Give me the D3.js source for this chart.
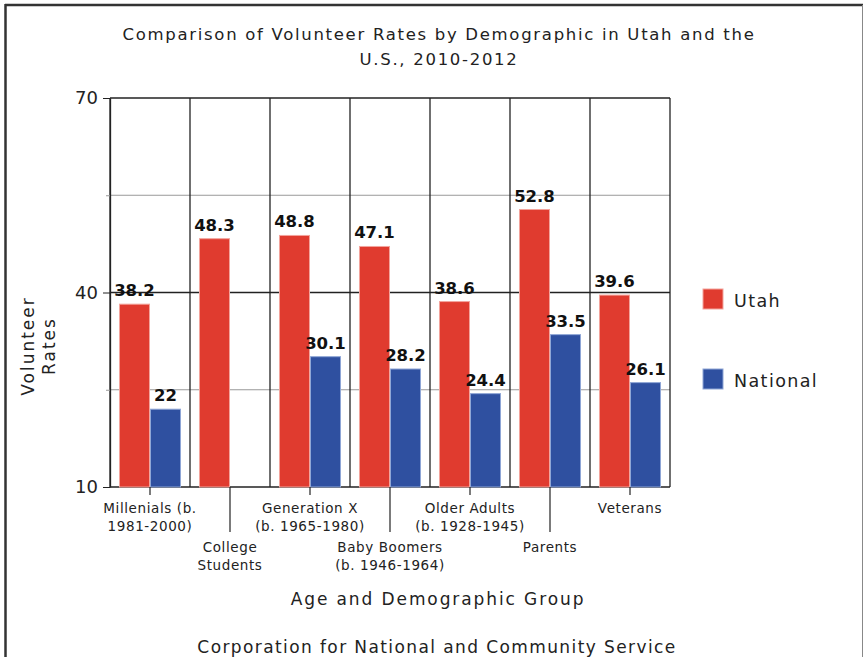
<!DOCTYPE html>
<html>
<head>
<meta charset="utf-8">
<script src="https://cdn.jsdelivr.net/npm/d3@7"></script>
<style>
  body { margin: 0; background: #fff; }
  svg { display: block; font-family: 'DejaVu Sans', sans-serif; }
</style>
</head>
<body>
<div id="chart"></div>
<script>
// data
const categories = ['Millenials', 'College Students', 'Generation X', 'Baby Boomers', 'Older Adults', 'Parents', 'Veterans'];
const categoryLabels = [
  ['Millenials (b.', '1981-2000)'],
  ['College', 'Students'],
  ['Generation X', '(b. 1965-1980)'],
  ['Baby Boomers', '(b. 1946-1964)'],
  ['Older Adults', '(b. 1928-1945)'],
  ['Parents'],
  ['Veterans'],
];
const seriesNames = ['Utah', 'National'];
const utahValues = [38.2, 48.3, 48.8, 47.1, 38.6, 52.8, 39.6];
const nationalValues = [22, null, 30.1, 28.2, 24.4, 33.5, 26.1];
const yTicks = [10, 25, 40, 55, 70];
const yLabelTicks = [10, 40, 70];

const colors = { Utah: '#e03b2f', National: '#2f50a0' };
const edges = { Utah: '#f3a49c', National: '#8fa6d6' };

const W = 866, H = 657;
const m = { top: 98, right: 196, bottom: 170, left: 110 };

const svg = d3.select('#chart').append('svg').attr('width', W).attr('height', H);

// frame
svg.append('line').attr('x1', 5).attr('x2', 863).attr('y1', 5).attr('y2', 5).attr('stroke', '#333').attr('stroke-width', 2.5);
svg.append('line').attr('x1', 5.5).attr('x2', 5.5).attr('y1', 4).attr('y2', H).attr('stroke', '#333').attr('stroke-width', 2.5);
svg.append('line').attr('x1', 862.5).attr('x2', 862.5).attr('y1', 5).attr('y2', H).attr('stroke', '#888').attr('stroke-width', 1);

const x0 = d3.scaleBand().domain(categories).range([m.left, W - m.right]).padding(0);
const x1 = d3.scaleBand().domain(seriesNames).range([0, x0.bandwidth()]).paddingInner(0).paddingOuter(0.29);
const y = d3.scaleLinear().domain([10, 70]).range([H - m.bottom, m.top]);

// horizontal grid
svg.append('g').selectAll('line').data(yTicks).join('line')
  .attr('x1', m.left).attr('x2', W - m.right)
  .attr('y1', d => y(d)).attr('y2', d => y(d))
  .attr('stroke', d => yLabelTicks.includes(d) ? '#222' : '#999')
  .attr('stroke-width', d => yLabelTicks.includes(d) ? 1.3 : 1);

// vertical separators
const bounds = categories.map(c => x0(c)).concat([x0(categories[categories.length - 1]) + x0.bandwidth()]);
svg.append('g').selectAll('line').data(bounds).join('line')
  .attr('x1', d => d).attr('x2', d => d)
  .attr('y1', y(70)).attr('y2', y(10))
  .attr('stroke', '#222').attr('stroke-width', 1.3);

// bars
const rows = categories.map((c, i) => ({ cat: c, values: [
  { key: 'Utah', value: utahValues[i] },
  { key: 'National', value: nationalValues[i] },
].filter(d => d.value != null) }));

const groups = svg.append('g').selectAll('g').data(rows).join('g')
  .attr('transform', d => `translate(${x0(d.cat)},0)`);

groups.selectAll('rect').data(d => d.values).join('rect')
  .attr('x', d => x1(d.key) + 0.5)
  .attr('width', x1.bandwidth() - 1)
  .attr('y', d => y(d.value))
  .attr('height', d => y(10) - y(d.value))
  .attr('fill', d => colors[d.key])
  .attr('stroke', d => edges[d.key]).attr('stroke-width', 1);

groups.selectAll('text').data(d => d.values).join('text')
  .attr('x', d => x1(d.key) + x1.bandwidth() / 2)
  .attr('y', d => y(d.value) - 8)
  .attr('text-anchor', 'middle')
  .attr('font-size', 16.5).attr('font-weight', 'bold').attr('fill', '#111')
  .text(d => d.value);

// y axis
const yAxis = svg.append('g').attr('transform', `translate(${m.left},0)`)
  .call(d3.axisLeft(y).tickValues(yTicks).tickSizeOuter(0).tickPadding(6)
    .tickFormat(d => yLabelTicks.includes(d) ? d : ''));
yAxis.select('.domain').attr('stroke', '#222').attr('stroke-width', 1.3);
yAxis.selectAll('.tick line').attr('x2', d => yLabelTicks.includes(d) ? -7 : -4)
  .attr('stroke', d => yLabelTicks.includes(d) ? '#222' : '#999');
yAxis.selectAll('.tick text').attr('font-size', 18).attr('fill', '#222').attr('font-family', 'DejaVu Sans');

// x axis
const xAxis = svg.append('g').attr('transform', `translate(0,${y(10)})`)
  .call(d3.axisBottom(x0).tickSizeOuter(0).tickFormat(''));
xAxis.select('.domain').remove();
xAxis.selectAll('.tick line').attr('y2', (d, i) => i % 2 ? 45 : 8).attr('stroke', '#222').attr('stroke-width', 1.2);
xAxis.selectAll('.tick text').remove();
xAxis.selectAll('.tick').append('text')
  .attr('text-anchor', 'middle').attr('fill', '#222').attr('font-size', 13.5)
  .attr('letter-spacing', 0.6).attr('font-family', 'DejaVu Sans')
  .each(function (d, i) {
    const t = d3.select(this);
    const base = i % 2 ? 65 : 26;
    categoryLabels[i].forEach((line, k) => {
      t.append('tspan').attr('x', 0).attr('y', base + k * 18).text(line);
    });
  });

// titles
const title = svg.append('text').attr('text-anchor', 'middle').attr('font-size', 16.5)
  .attr('letter-spacing', 1.7).attr('fill', '#222');
title.append('tspan').attr('x', 439).attr('y', 40).text('Comparison of Volunteer Rates by Demographic in Utah and the');
title.append('tspan').attr('x', 439).attr('y', 65).text('U.S., 2010-2012');

svg.append('text').attr('x', 438).attr('y', 605).attr('text-anchor', 'middle')
  .attr('font-size', 17).attr('letter-spacing', 1.9).attr('fill', '#222').text('Age and Demographic Group');
svg.append('text').attr('x', 437).attr('y', 653).attr('text-anchor', 'middle')
  .attr('font-size', 17).attr('letter-spacing', 1.4).attr('fill', '#222').text('Corporation for National and Community Service');

const yt = svg.append('text').attr('transform', 'translate(28,346) rotate(-90)')
  .attr('text-anchor', 'middle').attr('font-size', 17).attr('letter-spacing', 2).attr('fill', '#222');
yt.append('tspan').attr('x', 0).attr('y', 6).text('Volunteer');
yt.append('tspan').attr('x', 0).attr('y', 27).text('Rates');

// legend
const legend = svg.append('g').selectAll('g').data(seriesNames).join('g')
  .attr('transform', (d, i) => `translate(703,${289 + i * 80})`);
legend.append('rect').attr('width', 20).attr('height', 20)
  .attr('fill', d => colors[d]).attr('stroke', d => edges[d]);
legend.append('text').attr('x', 31).attr('y', 18).attr('font-size', 17.5).attr('letter-spacing', 1.4)
  .attr('fill', '#222').text(d => d);
</script>
</body>
</html>
